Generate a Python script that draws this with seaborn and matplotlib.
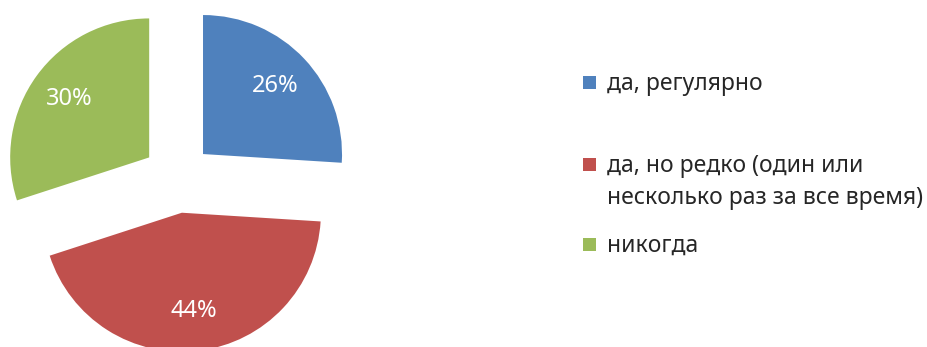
import matplotlib
matplotlib.use("Agg")
import matplotlib.pyplot as plt
from matplotlib.patches import Rectangle
import seaborn as sns

categories = ["да, регулярно",
              "да, но редко (один или\nнесколько раз за все время)",
              "никогда"]
shares = [26, 44, 30]
colors = ["#4F81BD", "#C0504D", "#9BBB59"]

sns.set_theme(style="white")
plt.rcParams["font.family"] = ["Noto Sans", "DejaVu Sans"]
palette = sns.color_palette(colors)

W, H = 928, 347
fig = plt.figure(figsize=(W / 100, H / 100), dpi=100)
ax = fig.add_axes([0, 0, 1, 1])

radius = 139
wedges, texts, autotexts = ax.pie(
    shares,
    colors=palette,
    startangle=90,
    counterclock=False,
    explode=[35] * len(shares),
    center=(177.5, H - 178),
    radius=radius,
    autopct="%d%%",
    pctdistance=0.71,
    textprops=dict(color="white", fontsize=17),
    wedgeprops=dict(linewidth=0),
    frame=True,
)
ax.set_xlim(0, W)
ax.set_ylim(0, H)
ax.set_aspect("equal")
ax.axis("off")

# legend: square keys, text lines beside them
key_x, key_size = 583, 13
text_x = 607
baselines = [90, 172, 252]
line_step = 32
for label, col, base in zip(categories, palette, baselines):
    ax.add_patch(Rectangle((key_x, H - (base - 8) - key_size / 2),
                           key_size, key_size, color=col, lw=0))
    for i, line in enumerate(label.split("\n")):
        ax.text(text_x, H - (base + i * line_step), line, fontsize=16.5,
                color="#262626", va="baseline", ha="left")

fig.savefig("out.png", dpi=100)
